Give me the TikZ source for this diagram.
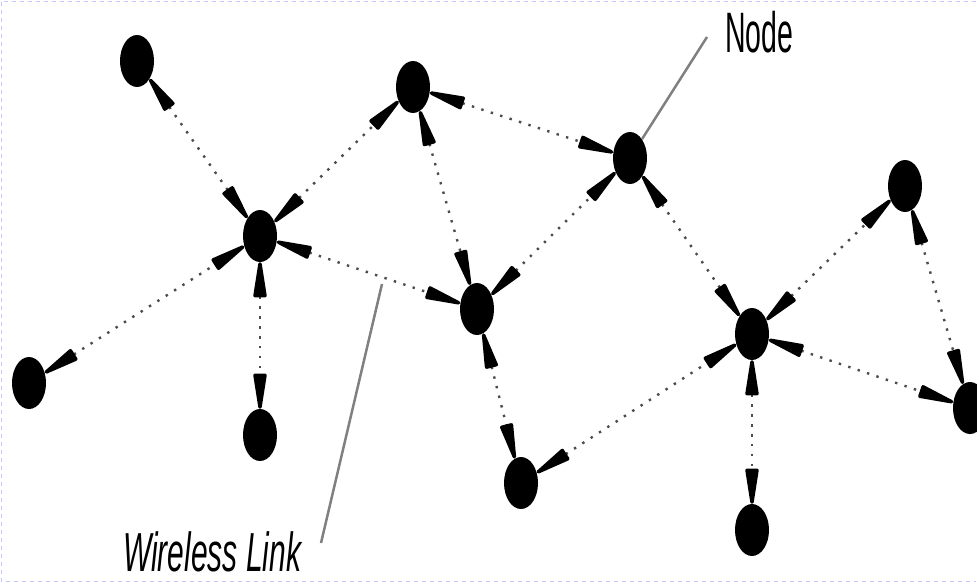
\documentclass[tikz,border=0pt]{standalone}
\usepackage{fontspec}
\setmainfont{Liberation Sans}
\usetikzlibrary{shapes.geometric,arrows.meta}
\begin{document}
\begin{tikzpicture}[x=1pt,y=-1pt,
  >={Triangle[round,length=46pt,width=13pt,line width=3.5pt,color=black,fill=black]},
  nd/.style={ellipse,fill=black,minimum width=34pt,minimum height=52pt,inner sep=0pt},
  lnk/.style={<->,draw=black!70,line width=2.4pt,dash pattern=on 2.4pt off 7.5pt},
  ptr/.style={draw=black!50,line width=2.5pt},
  lbl/.style={inner sep=0pt,anchor=base west,xscale=0.5,font=\fontsize{57}{60}\selectfont}]
\useasboundingbox (0,0) rectangle (977,583);
\clip (0,0) rectangle (977,583);

% faint page frame
\draw[blue!22,line width=0.8pt,dash pattern=on 4pt off 4pt]
  (976,1) -- (1,1) -- (1,581) -- (976,581);

% stations
\node[nd] (n1)  at (137,61)  {};
\node[nd] (n2)  at (413,87)  {};
\node[nd] (n3)  at (630,158) {};
\node[nd] (n4)  at (260,236) {};
\node[nd] (n5)  at (477,309) {};
\node[nd] (n6)  at (905,186) {};
\node[nd] (n7)  at (752,334) {};
\node[nd] (n8)  at (29,383)  {};
\node[nd] (n9)  at (260,435) {};
\node[nd] (n10) at (521,483) {};
\node[nd] (n11) at (752,530) {};
\node[nd] (n12) at (970,408) {};

% wireless links
\draw[lnk] (n1) -- (n4);
\draw[lnk] (n4) -- (n2);
\draw[lnk] (n8) -- (n4);
\draw[lnk] (n4) -- (n9);
\draw[lnk] (n4) -- (n5);
\draw[lnk] (n2) -- (n3);
\draw[lnk] (n2) -- (n5);
\draw[lnk] (n5) -- (n3);
\draw[lnk] (n5) -- (n10);
\draw[lnk] (n3) -- (n7);
\draw[lnk] (n10) -- (n7);
\draw[lnk] (n7) -- (n6);
\draw[lnk] (n6) -- (n12);
\draw[lnk] (n7) -- (n12);
\draw[lnk] (n7) -- (n11);

% labels and their pointers
\node[lbl] (lblnode) at (725,53) {Node};
\node[lbl,font=\fontsize{55}{60}\selectfont\itshape,xscale=1.09] (lbllink) at (123,571) {Wireless Link};
\coordinate (nodetail) at (707,37);
\coordinate (linktail) at (321,543);
\coordinate (linkhead) at (382,284);
\draw[ptr] (nodetail) -- (n3);
\draw[ptr] (linktail) -- (linkhead);
\end{tikzpicture}
\end{document}
